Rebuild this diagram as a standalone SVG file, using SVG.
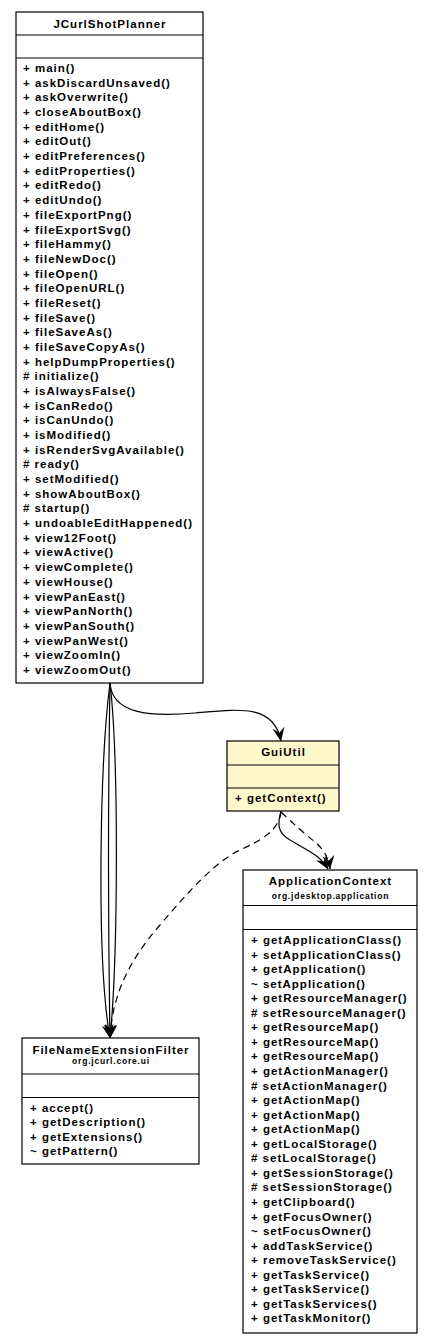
<svg xmlns="http://www.w3.org/2000/svg" width="432" height="1344" viewBox="0 0 432 1344">
<style>
.box{fill:#ffffff;stroke:#000000;stroke-width:1.2}
.focal{fill:#fff8cd;stroke:#000000;stroke-width:1.2}
.sep{stroke:#000000;stroke-width:1.2}
text{font-family:"Liberation Sans",Arial,Helvetica,sans-serif;font-weight:bold;fill:#000000}
.t{font-size:11.5px;letter-spacing:1px;text-anchor:middle}
.p{font-size:8.5px;letter-spacing:0.8px;text-anchor:middle}
.m{font-size:11.5px;letter-spacing:1px}
.e{fill:none;stroke:#000000;stroke-width:1.2}
.d{fill:none;stroke:#000000;stroke-width:1.2;stroke-dasharray:7,5}
</style>
<defs>
<marker id="vee" markerUnits="userSpaceOnUse" viewBox="0 0 14 12" refX="13.5" refY="6" markerWidth="14" markerHeight="12" orient="auto">
<path d="M0,0 L14,6 L0,12 L5,6 z" fill="#000000"/>
</marker>
</defs>

<g id="connectors">
<path class="e" d="M110,683 C112,714 150,717 195,713 C240,709 274,704 281,741" marker-end="url(#vee)"/>
<path class="e" d="M110,683 C100,760 96,960 110,1038" marker-end="url(#vee)"/>
<path class="e" d="M110,683 C108,800 108,920 110,1038" marker-end="url(#vee)"/>
<path class="e" d="M110,683 C119,760 118,960 110,1038" marker-end="url(#vee)"/>
<path class="d" d="M281,812 C279,830 262,840 240,850 C215,862 190,890 160,925 C125,965 112,1000 110,1038" marker-end="url(#vee)"/>
<path class="e" d="M281,811 C277,825 278,833 290,840 C305,849 320,855 328,869" marker-end="url(#vee)"/>
<path class="d" d="M281,812 Q300,830 315,842 Q328,853 330,869" marker-end="url(#vee)"/>
</g>

<g id="JCurlShotPlanner">
<rect class="box" x="16" y="12" width="187" height="671"/>
<line class="sep" x1="16" y1="35" x2="203" y2="35"/>
<line class="sep" x1="16" y1="58" x2="203" y2="58"/>
<text class="t" x="110" y="27.5">JCurlShotPlanner</text>
<text class="m" x="23" y="72">+ main()</text>
<text class="m" x="23" y="86.7">+ askDiscardUnsaved()</text>
<text class="m" x="23" y="101.4">+ askOverwrite()</text>
<text class="m" x="23" y="116">+ closeAboutBox()</text>
<text class="m" x="23" y="130.7">+ editHome()</text>
<text class="m" x="23" y="145.4">+ editOut()</text>
<text class="m" x="23" y="160.1">+ editPreferences()</text>
<text class="m" x="23" y="174.8">+ editProperties()</text>
<text class="m" x="23" y="189.4">+ editRedo()</text>
<text class="m" x="23" y="204.1">+ editUndo()</text>
<text class="m" x="23" y="218.8">+ fileExportPng()</text>
<text class="m" x="23" y="233.5">+ fileExportSvg()</text>
<text class="m" x="23" y="248.2">+ fileHammy()</text>
<text class="m" x="23" y="262.8">+ fileNewDoc()</text>
<text class="m" x="23" y="277.5">+ fileOpen()</text>
<text class="m" x="23" y="292.2">+ fileOpenURL()</text>
<text class="m" x="23" y="306.9">+ fileReset()</text>
<text class="m" x="23" y="321.6">+ fileSave()</text>
<text class="m" x="23" y="336.2">+ fileSaveAs()</text>
<text class="m" x="23" y="350.9">+ fileSaveCopyAs()</text>
<text class="m" x="23" y="365.6">+ helpDumpProperties()</text>
<text class="m" x="23" y="380.3"># initialize()</text>
<text class="m" x="23" y="395">+ isAlwaysFalse()</text>
<text class="m" x="23" y="409.6">+ isCanRedo()</text>
<text class="m" x="23" y="424.3">+ isCanUndo()</text>
<text class="m" x="23" y="439">+ isModified()</text>
<text class="m" x="23" y="453.7">+ isRenderSvgAvailable()</text>
<text class="m" x="23" y="468.4"># ready()</text>
<text class="m" x="23" y="483">+ setModified()</text>
<text class="m" x="23" y="497.7">+ showAboutBox()</text>
<text class="m" x="23" y="512.4"># startup()</text>
<text class="m" x="23" y="527.1">+ undoableEditHappened()</text>
<text class="m" x="23" y="541.8">+ view12Foot()</text>
<text class="m" x="23" y="556.4">+ viewActive()</text>
<text class="m" x="23" y="571.1">+ viewComplete()</text>
<text class="m" x="23" y="585.8">+ viewHouse()</text>
<text class="m" x="23" y="600.5">+ viewPanEast()</text>
<text class="m" x="23" y="615.2">+ viewPanNorth()</text>
<text class="m" x="23" y="629.8">+ viewPanSouth()</text>
<text class="m" x="23" y="644.5">+ viewPanWest()</text>
<text class="m" x="23" y="659.2">+ viewZoomIn()</text>
<text class="m" x="23" y="673.9">+ viewZoomOut()</text>
</g>

<g id="GuiUtil">
<rect class="focal" x="227" y="741" width="112" height="70"/>
<line class="sep" x1="227" y1="765" x2="339" y2="765"/>
<line class="sep" x1="227" y1="788" x2="339" y2="788"/>
<text class="t" x="283.5" y="756">GuiUtil</text>
<text class="m" x="235" y="801.5">+ getContext()</text>
</g>

<g id="ApplicationContext">
<rect class="box" x="243" y="870" width="174" height="463"/>
<line class="sep" x1="243" y1="905.5" x2="417" y2="905.5"/>
<line class="sep" x1="243" y1="929.5" x2="417" y2="929.5"/>
<text class="t" x="330.5" y="885">ApplicationContext</text>
<text class="p" x="330.5" y="898.5">org.jdesktop.application</text>
<text class="m" x="251" y="944">+ getApplicationClass()</text>
<text class="m" x="251" y="958.6">+ setApplicationClass()</text>
<text class="m" x="251" y="973.1">+ getApplication()</text>
<text class="m" x="251" y="987.7">~ setApplication()</text>
<text class="m" x="251" y="1002.2">+ getResourceManager()</text>
<text class="m" x="251" y="1016.8"># setResourceManager()</text>
<text class="m" x="251" y="1031.3">+ getResourceMap()</text>
<text class="m" x="251" y="1045.9">+ getResourceMap()</text>
<text class="m" x="251" y="1060.4">+ getResourceMap()</text>
<text class="m" x="251" y="1075">+ getActionManager()</text>
<text class="m" x="251" y="1089.5"># setActionManager()</text>
<text class="m" x="251" y="1104.1">+ getActionMap()</text>
<text class="m" x="251" y="1118.6">+ getActionMap()</text>
<text class="m" x="251" y="1133.2">+ getActionMap()</text>
<text class="m" x="251" y="1147.7">+ getLocalStorage()</text>
<text class="m" x="251" y="1162.3"># setLocalStorage()</text>
<text class="m" x="251" y="1176.8">+ getSessionStorage()</text>
<text class="m" x="251" y="1191.4"># setSessionStorage()</text>
<text class="m" x="251" y="1205.9">+ getClipboard()</text>
<text class="m" x="251" y="1220.5">+ getFocusOwner()</text>
<text class="m" x="251" y="1235">~ setFocusOwner()</text>
<text class="m" x="251" y="1249.6">+ addTaskService()</text>
<text class="m" x="251" y="1264.1">+ removeTaskService()</text>
<text class="m" x="251" y="1278.7">+ getTaskService()</text>
<text class="m" x="251" y="1293.2">+ getTaskService()</text>
<text class="m" x="251" y="1307.8">+ getTaskServices()</text>
<text class="m" x="251" y="1322.3">+ getTaskMonitor()</text>
</g>

<g id="FileNameExtensionFilter">
<rect class="box" x="22" y="1038" width="177" height="126"/>
<line class="sep" x1="22" y1="1074" x2="199" y2="1074"/>
<line class="sep" x1="22" y1="1097.5" x2="199" y2="1097.5"/>
<text class="t" x="111" y="1053.5">FileNameExtensionFilter</text>
<text class="p" x="111" y="1064">org.jcurl.core.ui</text>
<text class="m" x="30" y="1111.5">+ accept()</text>
<text class="m" x="30" y="1126.1">+ getDescription()</text>
<text class="m" x="30" y="1140.7">+ getExtensions()</text>
<text class="m" x="30" y="1155.3">~ getPattern()</text>
</g>
</svg>
